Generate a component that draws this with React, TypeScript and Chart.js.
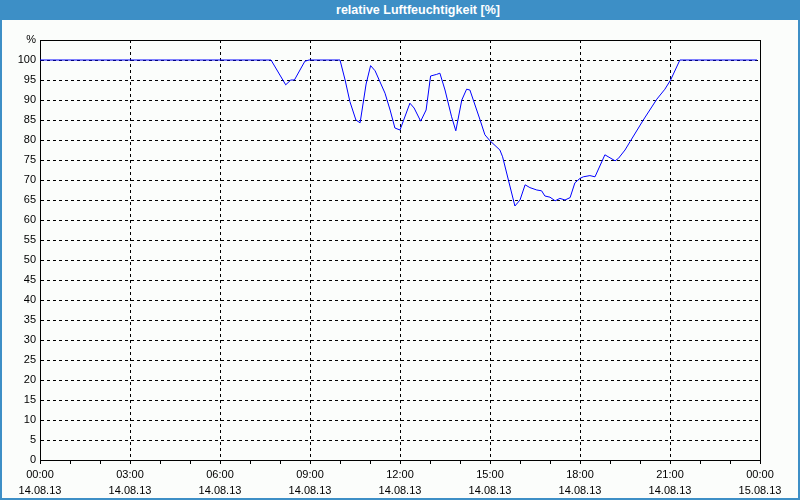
import React, { useEffect, useRef } from "react";
import { Chart, registerables } from "chart.js";

Chart.register(...registerables);

const TITLE = "relative Luftfeuchtigkeit [%]";
const Y_UNIT_LABEL = "%";

// hours since 14.08.13 00:00
const HOURS = [
  0, 7.7, 8.19, 8.36, 8.48, 8.83, 8.97, 10.0, 10.17, 10.33, 10.53, 10.67, 10.87, 11.02, 11.17,
  11.5, 11.67, 11.83, 12.0, 12.33, 12.47, 12.69, 12.87, 13.02, 13.22, 13.33, 13.5, 13.72, 13.86,
  14.06, 14.22, 14.33, 14.67, 14.83, 15.0, 15.33, 15.42, 15.83, 16.0, 16.17, 16.33, 16.56, 16.72,
  16.83, 17.0, 17.17, 17.33, 17.5, 17.67, 17.83, 18.0, 18.11, 18.33, 18.5, 18.83, 19.17, 19.28,
  19.5, 19.67, 20.11, 20.56, 20.83, 21.02, 21.33, 23.9,
];
const HUMIDITY = [
  100, 100, 93.8, 95, 95, 99.7, 100, 100, 95, 89.6, 85, 84.3, 94, 98.6, 97.3,
  91.7, 87.5, 83, 82.5, 89.2, 88, 84.7, 87.5, 96, 96.4, 96.7, 92.5, 85.8, 82.3,
  90, 92.7, 92.5, 85, 81.3, 79.8, 77.5, 75.8, 63.5, 65, 68.8, 68.1, 67.5, 67.3,
  66, 65.7, 64.8, 65.4, 65, 65.6, 69.3, 70.4, 70.8, 71.1, 70.8, 76.3, 74.8, 75.4,
  77.5, 79.6, 85, 90.2, 92.7, 95, 100, 100,
];

const X_TICK_HOURS = [0, 3, 6, 9, 12, 15, 18, 21, 24];
const X_TICK_TIMES = ["00:00", "03:00", "06:00", "09:00", "12:00", "15:00", "18:00", "21:00", "00:00"];
const X_TICK_DATES = ["14.08.13", "14.08.13", "14.08.13", "14.08.13", "14.08.13", "14.08.13", "14.08.13", "14.08.13", "15.08.13"];

const Y_MIN = 0;
const Y_MAX = 105;
const Y_STEP = 5;

const BLUE = "#3d8fc6";
const FONT = "'Liberation Sans', Arial, sans-serif";

export default function App() {
  const ref = useRef<HTMLCanvasElement>(null);

  useEffect(() => {
    if (!ref.current) return;
    const framePlugin = {
      id: "frame",
      beforeDatasetsDraw(chart: any) {
        const { ctx, chartArea } = chart;
        ctx.save();
        ctx.strokeStyle = "#000";
        ctx.lineWidth = 1;
        ctx.setLineDash([]);
        ctx.strokeRect(
          Math.round(chartArea.left) + 0.5,
          Math.round(chartArea.top) + 0.5,
          Math.round(chartArea.right - chartArea.left),
          Math.round(chartArea.bottom - chartArea.top)
        );
        ctx.restore();
      },
    };
    const chart = new Chart(ref.current, {
      type: "line",
      data: {
        datasets: [
          {
            data: HOURS.map((h, i) => ({ x: h, y: HUMIDITY[i] })),
            borderColor: "#0000ff",
            borderWidth: 1,
            pointRadius: 0,
            tension: 0,
            fill: false,
          },
        ],
      },
      options: {
        animation: false,
        responsive: false,
        devicePixelRatio: 1,
        layout: { padding: { top: 40, right: 40, left: 0, bottom: 0 } },
        plugins: { legend: { display: false }, tooltip: { enabled: false }, title: { display: false } },
        scales: {
          x: {
            type: "linear",
            min: 0,
            max: 24,
            afterFit: (s: any) => {
              s.height = 40;
            },
            afterBuildTicks: (s: any) => {
              const t = [];
              for (let h = 0; h <= 24; h++) t.push({ value: h });
              s.ticks = t;
            },
            border: { display: true, color: "#000", width: 1, dash: [3, 3] },
            grid: {
              drawOnChartArea: true,
              drawTicks: true,
              tickLength: 4,
              color: (c: any) =>
                c.tick && X_TICK_HOURS.includes(c.tick.value) && c.tick.value !== 0 && c.tick.value !== 24
                  ? "#000"
                  : "rgba(0,0,0,0)",
              tickColor: "#000",
              tickBorderDash: [],
              lineWidth: 1,
            },
            ticks: {
              autoSkip: false,
              maxRotation: 0,
              padding: 3,
              color: "#000",
              font: { family: FONT, size: 11, lineHeight: 1.45 },
              callback: (v: any) => {
                const i = X_TICK_HOURS.indexOf(Number(v));
                return i >= 0 ? [X_TICK_TIMES[i], X_TICK_DATES[i]] : "";
              },
            },
          },
          y: {
            min: Y_MIN,
            max: Y_MAX,
            afterFit: (s: any) => {
              s.width = 40;
            },
            border: { display: true, color: "#000", width: 1, dash: [3, 3] },
            grid: {
              drawTicks: false,
              color: (c: any) =>
                c.tick && c.tick.value > Y_MIN && c.tick.value < Y_MAX ? "#000" : "rgba(0,0,0,0)",
              lineWidth: 1,
            },
            ticks: {
              stepSize: Y_STEP,
              padding: 4,
              color: "#000",
              font: { family: FONT, size: 11 },
              callback: (v: any) => (Number(v) === Y_MAX ? Y_UNIT_LABEL : String(v)),
            },
          },
        },
      },
      plugins: [framePlugin],
    });
    return () => chart.destroy();
  }, []);

  return (
    <div
      style={{
        position: "fixed",
        left: 0,
        top: 0,
        width: 800,
        height: 500,
        background: "#fbfdfb",
        overflow: "hidden",
      }}
    >
      <div
        style={{
          position: "absolute",
          left: 0,
          top: 0,
          width: 800,
          height: 20,
          background: BLUE,
          color: "#fff",
          fontFamily: FONT,
          fontWeight: "bold",
          fontSize: 12.5,
          lineHeight: "20px",
          textAlign: "center",
          paddingLeft: 36,
          boxSizing: "border-box",
        }}
      >
        {TITLE}
      </div>
      <div style={{ position: "absolute", left: 0, top: 0, width: 2, height: 500, background: BLUE }} />
      <div style={{ position: "absolute", right: 0, top: 0, width: 2, height: 500, background: BLUE }} />
      <div style={{ position: "absolute", left: 0, bottom: 0, width: 800, height: 2, background: BLUE }} />
      <canvas ref={ref} width={800} height={500} style={{ position: "absolute", left: 0, top: 0 }} />
    </div>
  );
}
